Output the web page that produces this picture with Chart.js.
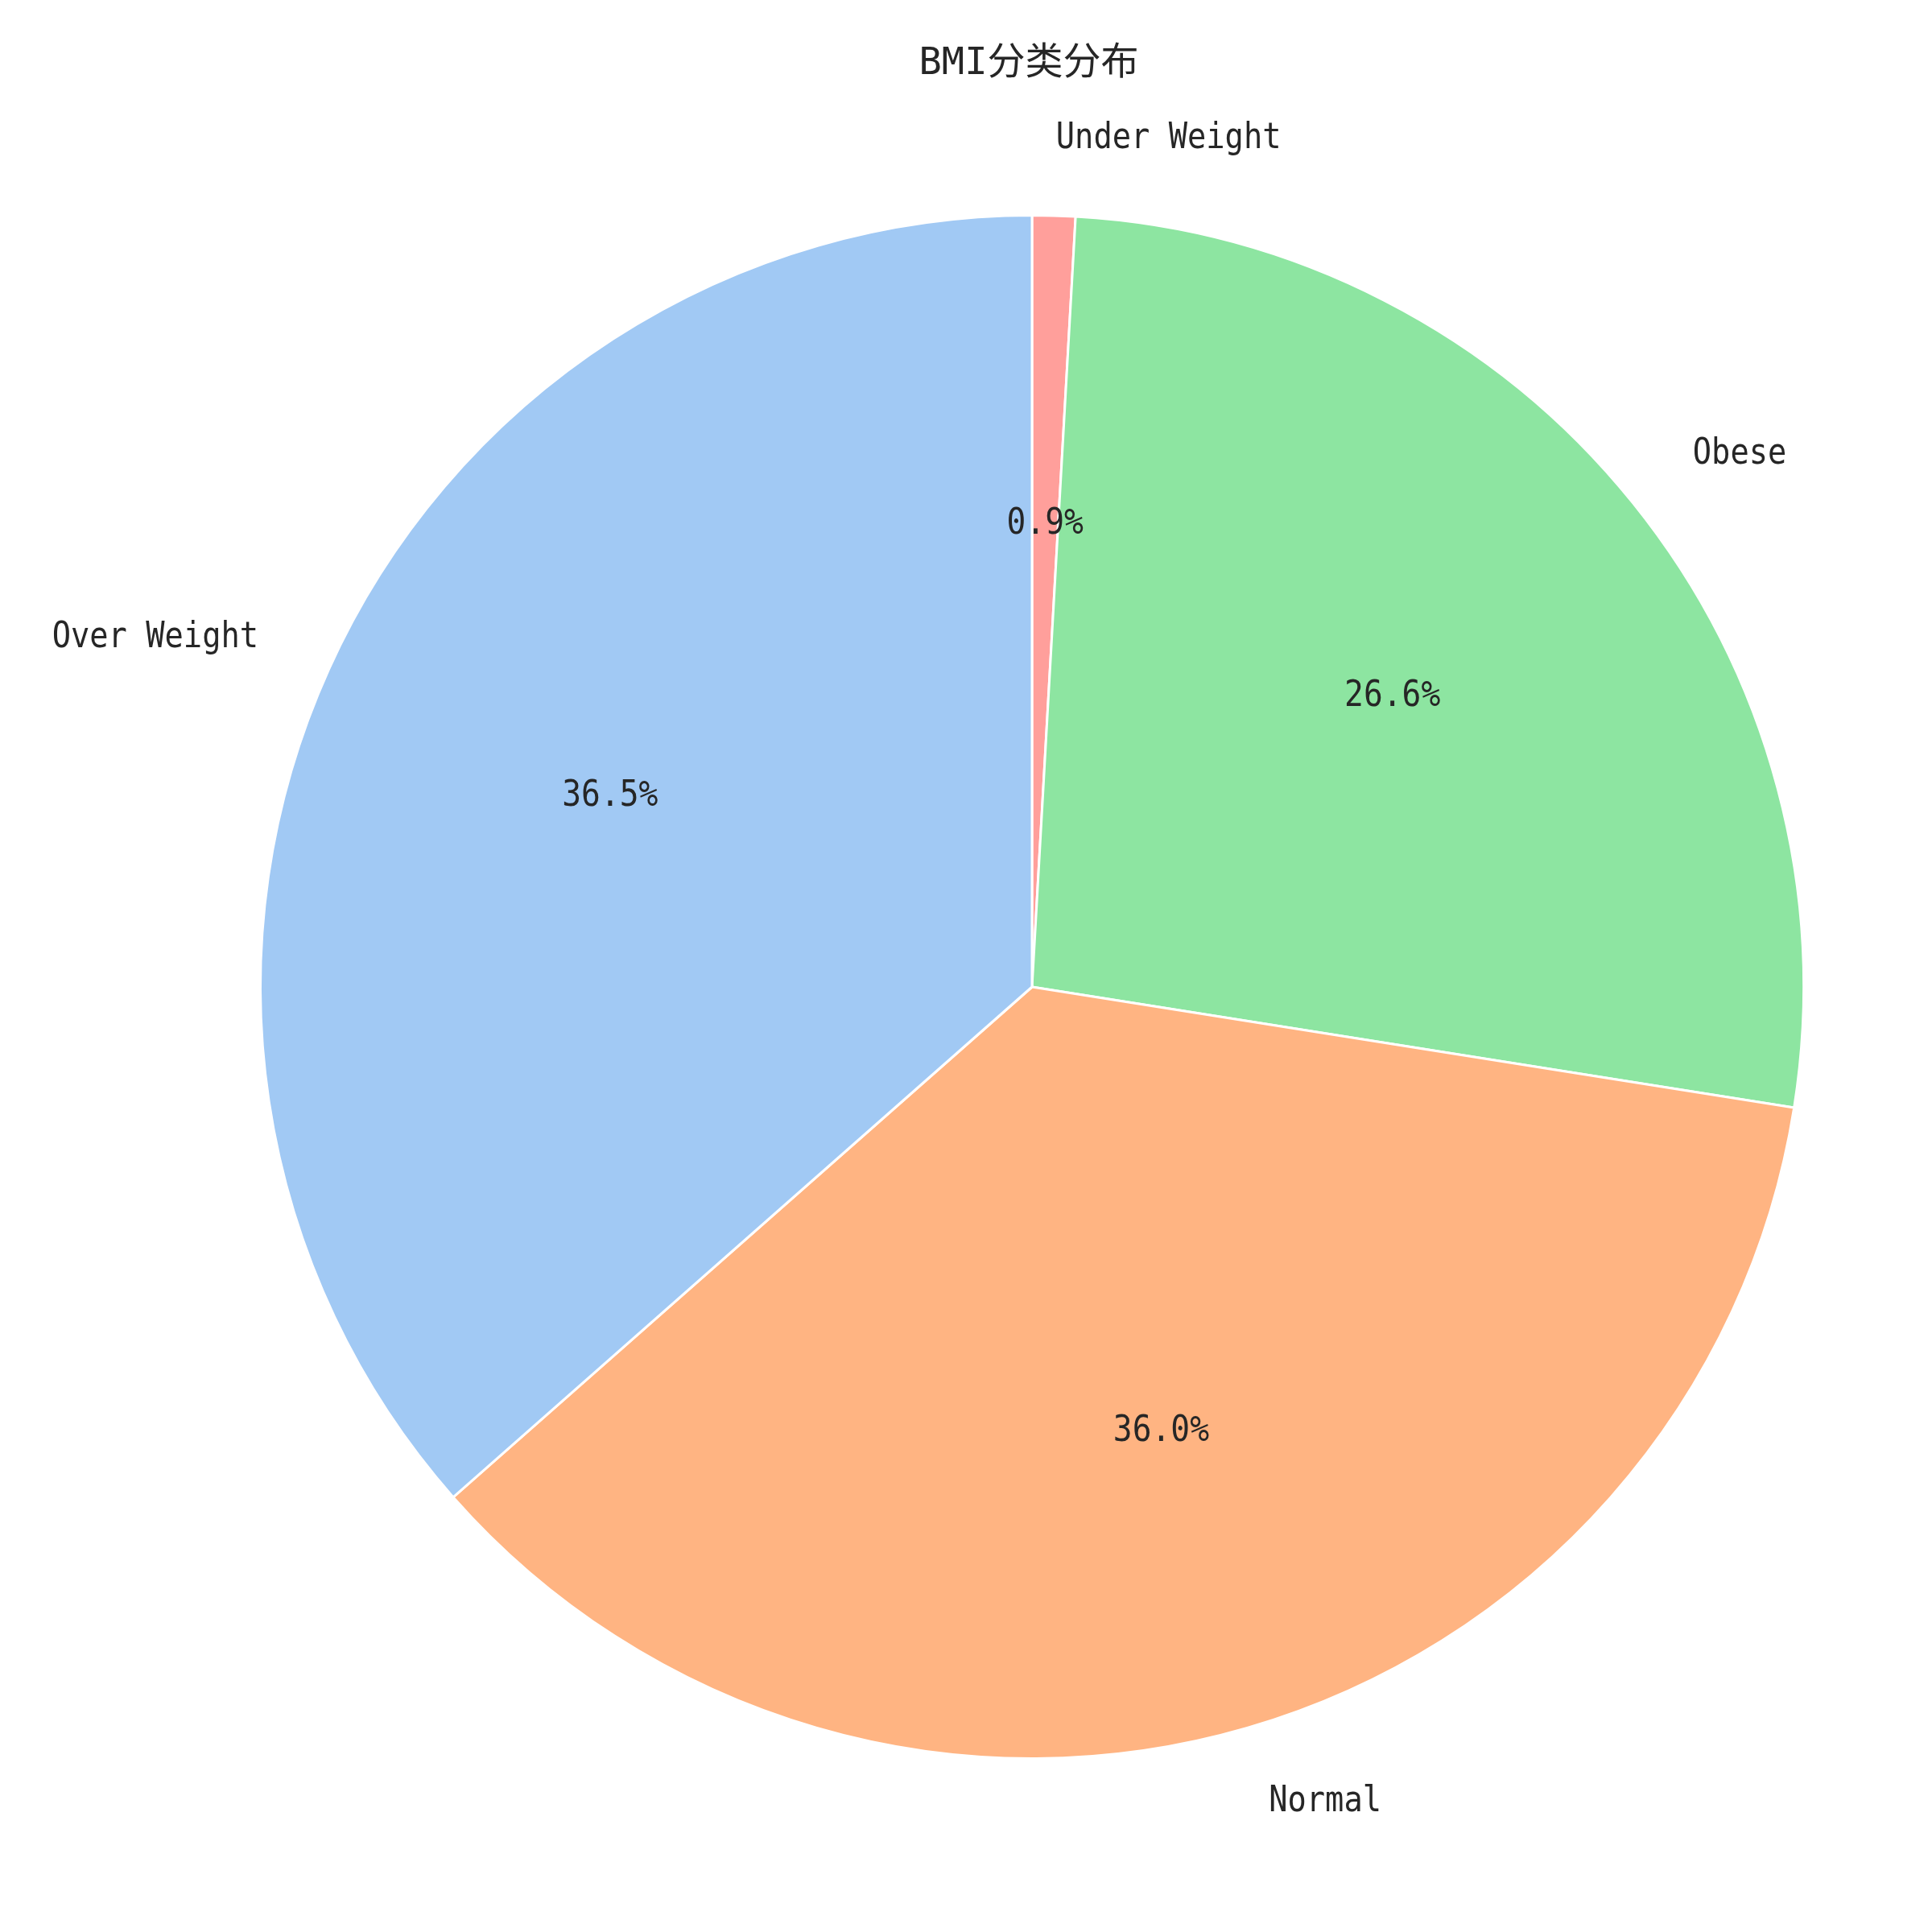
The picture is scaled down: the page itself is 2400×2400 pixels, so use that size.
<!DOCTYPE html>
<html>
<head>
<meta charset="utf-8">
<script src="https://cdn.jsdelivr.net/npm/chart.js@4"></script>
<style>
  html, body { margin: 0; padding: 0; background: #ffffff; }
  #wrap { width: 2400px; height: 2400px; }
</style>
</head>
<body>
<div id="wrap"><canvas id="c" width="2400" height="2400"></canvas></div>
<script>
// Data (clockwise from top, as drawn)
const categories = ['Under Weight', 'Obese', 'Normal', 'Over Weight'];
const shares = [0.9, 26.6, 36.0, 36.5];
const sliceColors = ['#ff9f9b', '#8de5a1', '#ffb482', '#a1c9f4'];
const chartTitle = 'BMI分类分布';

const textColor = '#262626';
const latinFont = "'DejaVu Sans Mono', 'Noto Sans CJK SC', monospace";

const labelPlugin = {
  id: 'pieLabels',
  afterDatasetsDraw(chart) {
    const ctx = chart.ctx;
    const meta = chart.getDatasetMeta(0);
    const vals = chart.data.datasets[0].data;
    const total = vals.reduce((a, b) => a + b, 0);
    ctx.save();
    ctx.fillStyle = textColor;
    ctx.textBaseline = 'middle';
    meta.data.forEach((arc, i) => {
      const p = arc.getProps(['x', 'y', 'startAngle', 'endAngle', 'outerRadius'], true);
      const mid = (p.startAngle + p.endAngle) / 2;
      const cx = Math.cos(mid), cy = Math.sin(mid);
      // outer category label
      const lx = p.x + 1.1 * p.outerRadius * cx;
      const ly = p.y + 1.1 * p.outerRadius * cy;
      ctx.save();
      ctx.translate(lx, ly);
      ctx.scale(0.88, 1);
      ctx.font = '44px ' + latinFont;
      ctx.textAlign = cx >= 0 ? 'left' : 'right';
      ctx.fillText(chart.data.labels[i], 0, 0);
      ctx.restore();
      // percentage label
      const px = p.x + 0.6 * p.outerRadius * cx;
      const py = p.y + 0.6 * p.outerRadius * cy;
      ctx.save();
      ctx.translate(px, py);
      ctx.scale(0.88, 1);
      ctx.font = '45px ' + latinFont;
      ctx.textAlign = 'center';
      ctx.fillText((vals[i] / total * 100).toFixed(1) + '%', 0, 0);
      ctx.restore();
    });
    // title
    const area = chart.chartArea;
    ctx.save();
    ctx.translate((area.left + area.right) / 2 - 4, 80);
    ctx.font = '47px ' + latinFont;
    ctx.textAlign = 'center';
    ctx.fillText(chartTitle, 0, 0);
    ctx.restore();
    ctx.restore();
  }
};

new Chart(document.getElementById('c'), {
  type: 'pie',
  data: {
    labels: categories,
    datasets: [{
      data: shares,
      backgroundColor: sliceColors,
      borderColor: '#ffffff',
      borderWidth: 3
    }]
  },
  options: {
    responsive: false,
    devicePixelRatio: 1,
    animation: false,
    layout: { padding: { top: 266, bottom: 214, left: 322, right: 158 } },
    plugins: {
      legend: { display: false },
      tooltip: { enabled: false },
      title: { display: false }
    }
  },
  plugins: [labelPlugin]
});
</script>
</body>
</html>
